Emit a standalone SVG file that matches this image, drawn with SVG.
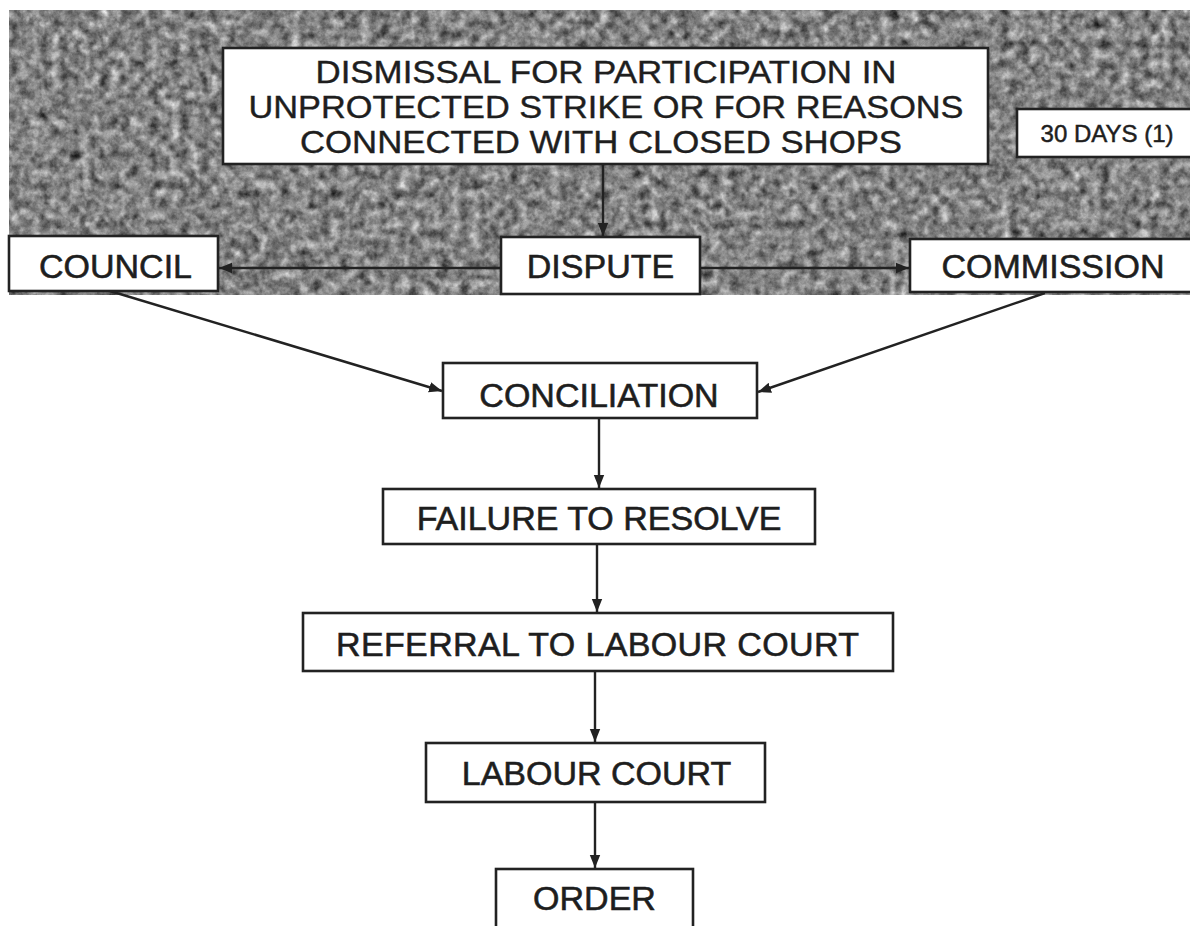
<svg xmlns="http://www.w3.org/2000/svg" width="1190" height="926" viewBox="0 0 1190 926">
<style>
.box{fill:#fff;stroke:#222;stroke-width:2.6}
.lbl{font-family:"Liberation Sans",Arial,Helvetica,sans-serif;font-size:34px;fill:#1e1e1e;stroke:#1e1e1e;stroke-width:0.6;text-anchor:middle}
.ttl{font-family:"Liberation Sans",Arial,Helvetica,sans-serif;font-size:30.5px;fill:#1e1e1e;stroke:#1e1e1e;stroke-width:0.4;text-anchor:middle}
.small{font-family:"Liberation Sans",Arial,Helvetica,sans-serif;font-size:24px;fill:#1e1e1e;stroke:#1e1e1e;stroke-width:0.5;text-anchor:middle}
.conn{stroke:#222;stroke-width:2.4;fill:none;marker-end:url(#arr)}
</style>
<defs>
<marker id="arr" viewBox="0 0 10 10" refX="10" refY="5" markerWidth="13" markerHeight="13" markerUnits="userSpaceOnUse" orient="auto">
<path d="M0,1 L10,5 L0,9 z" fill="#222"/>
</marker>
<filter id="grain" x="0" y="0" width="100%" height="100%" color-interpolation-filters="sRGB">
<feTurbulence type="fractalNoise" baseFrequency="0.1" numOctaves="4" seed="7" result="n"/>
<feColorMatrix in="n" type="matrix" values="0.6 0.6 0 0 -0.09  0.6 0.6 0 0 -0.09  0.6 0.6 0 0 -0.09  0 0 0 0 1" result="g"/>
<feComposite in="g" in2="SourceGraphic" operator="in"/>
</filter>
</defs>
<rect width="1190" height="926" fill="#fff"/>
<rect id="background" x="9" y="10" width="1181" height="285" fill="#7f7f7f" filter="url(#grain)"/>
<g id="connectors">
<line class="conn" x1="603" y1="164" x2="603" y2="236"/>
<line class="conn" x1="501" y1="268" x2="219" y2="268"/>
<line class="conn" x1="700" y1="268" x2="909" y2="268"/>
<line class="conn" x1="110" y1="291" x2="442" y2="391"/>
<line class="conn" x1="1045" y1="293" x2="758" y2="392"/>
<line class="conn" x1="599" y1="418" x2="599" y2="488"/>
<line class="conn" x1="597" y1="544" x2="597" y2="612"/>
<line class="conn" x1="595" y1="671" x2="595" y2="742"/>
<line class="conn" x1="595" y1="802" x2="595" y2="868"/>
</g>
<g id="title">
<rect class="box" x="223" y="48" width="765" height="116"/>
<text class="ttl" x="606" y="82.5" textLength="581" lengthAdjust="spacingAndGlyphs">DISMISSAL FOR PARTICIPATION IN</text>
<text class="ttl" x="606" y="117.5" textLength="715" lengthAdjust="spacingAndGlyphs">UNPROTECTED STRIKE OR FOR REASONS</text>
<text class="ttl" x="601" y="152.5" textLength="602" lengthAdjust="spacingAndGlyphs">CONNECTED WITH CLOSED SHOPS</text>
</g>
<g id="days">
<rect class="box" x="1017" y="109" width="190" height="48"/>
<text class="small" x="1107" y="141.5">30 DAYS (1)</text>
</g>
<g id="council">
<rect class="box" x="9" y="236" width="209" height="55"/>
<text class="lbl" x="115.5" y="278">COUNCIL</text>
</g>
<g id="dispute">
<rect class="box" x="501" y="237" width="199" height="57"/>
<text class="lbl" x="600.5" y="278">DISPUTE</text>
</g>
<g id="commission">
<rect class="box" x="910" y="239" width="300" height="53"/>
<text class="lbl" x="1053" y="278">COMMISSION</text>
</g>
<g id="conciliation">
<rect class="box" x="443" y="363" width="314" height="55"/>
<text class="lbl" x="599" y="406.5">CONCILIATION</text>
</g>
<g id="failure">
<rect class="box" x="383" y="489" width="432" height="55"/>
<text class="lbl" x="599" y="530">FAILURE TO RESOLVE</text>
</g>
<g id="referral">
<rect class="box" x="303" y="613" width="590" height="58"/>
<text class="lbl" x="597.5" y="656" textLength="523" lengthAdjust="spacing">REFERRAL TO LABOUR COURT</text>
</g>
<g id="labour">
<rect class="box" x="426" y="743" width="339" height="59"/>
<text class="lbl" x="596.5" y="785">LABOUR COURT</text>
</g>
<g id="order">
<rect class="box" x="496" y="869" width="197" height="80"/>
<text class="lbl" x="594.5" y="910">ORDER</text>
</g>
</svg>
